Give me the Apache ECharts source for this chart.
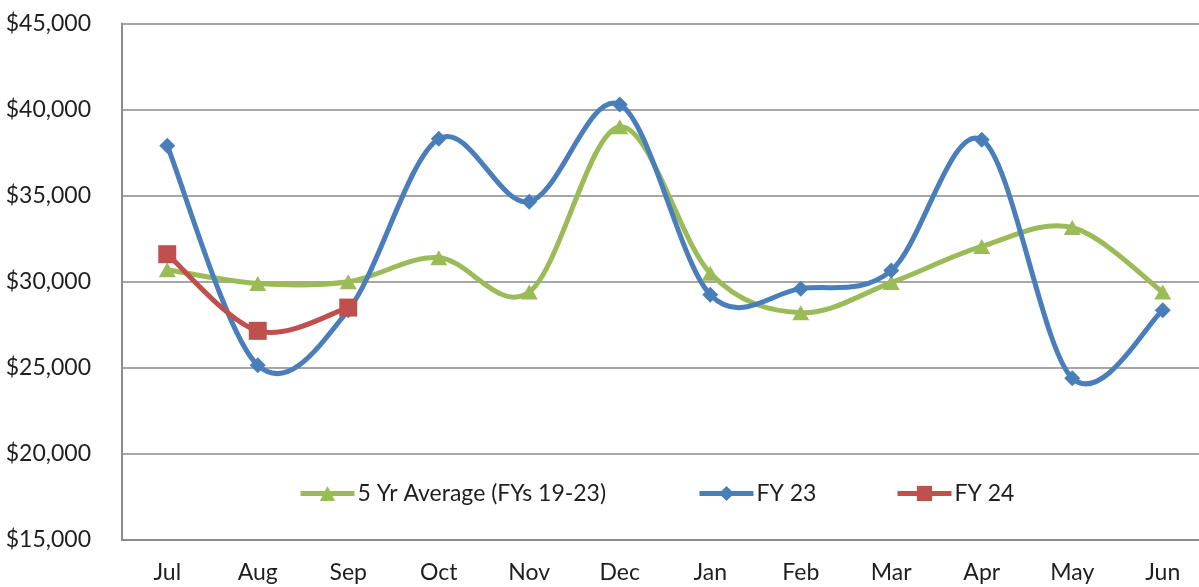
<!DOCTYPE html>
<html>
<head>
<meta charset="utf-8">
<script src="https://cdn.jsdelivr.net/npm/echarts@6/dist/echarts.min.js"></script>
<style>
  html, body { margin: 0; padding: 0; background: #fff; }
  #chart { width: 1199px; height: 587px; }
</style>
</head>
<body>
<div id="chart"></div>
<script>
// months of the fiscal year
var months = ['Jul', 'Aug', 'Sep', 'Oct', 'Nov', 'Dec', 'Jan', 'Feb', 'Mar', 'Apr', 'May', 'Jun'];
// 5 year average FYs 19-23
var avg5yr = [30700, 29900, 30000, 31400, 29400, 39000, 30500, 28200, 29950, 32050, 33150, 29400];
var fy23 = [37900, 25150, 28350, 38300, 34650, 40300, 29250, 29600, 30650, 38250, 24400, 28350];
var fy24 = [31600, 27150, 28500];

var yTicks = { min: 15000, max: 45000, step: 5000 };

var font = 'Lato, "Open Sans", sans-serif';
var textCol = '#1f1f1f';
var fs = 23;
var colors = { avg: '#9bbb59', fy23: '#4a7ebb', fy24: '#c0504d' };

var chart = echarts.init(document.getElementById('chart'));

function legendFor(name, left, color) {
    return {
        data: [name],
        left: left,
        top: 482,
        itemWidth: 54,
        itemHeight: 19,
        itemGap: 0,
        padding: 0,
        lineStyle: { color: color, width: 5, opacity: 1 },
        textStyle: { fontFamily: font, fontSize: fs, color: textCol, padding: [0, 0, 0, -2] }
    };
}

// excel style smoothed line: catmull-rom segments between the points
function curve(values, color, z) {
    return {
        type: 'custom',
        z: z,
        silent: true,
        data: values.map(function (v, i) { return [i, v]; }),
        encode: { x: 0, y: 1 },
        renderItem: function (params, api) {
            var i = params.dataIndex;
            var n = values.length;
            if (i >= n - 1) return null;
            var p = function (k) {
                k = Math.max(0, Math.min(n - 1, k));
                return api.coord([k, values[k]]);
            };
            var p0 = p(i - 1), p1 = p(i), p2 = p(i + 1), p3 = p(i + 2);
            return {
                type: 'bezierCurve',
                shape: {
                    x1: p1[0], y1: p1[1],
                    cpx1: p1[0] + (p2[0] - p0[0]) / 6, cpy1: p1[1] + (p2[1] - p0[1]) / 6,
                    cpx2: p2[0] - (p3[0] - p1[0]) / 6, cpy2: p2[1] - (p3[1] - p1[1]) / 6,
                    x2: p2[0], y2: p2[1]
                },
                style: { stroke: color, lineWidth: 5, fill: null, lineCap: 'round' }
            };
        }
    };
}

function markers(name, values, symbol, size, color, z) {
    return {
        name: name,
        type: 'line',
        z: z,
        data: values,
        symbol: symbol,
        symbolSize: size,
        lineStyle: { opacity: 0 },
        itemStyle: { color: color }
    };
}

chart.setOption({
    animation: false,
    // plot runs past the right edge of the picture, like the original crop
    grid: { left: 122, width: 1086, top: 23.5, bottom: 47, outerBoundsMode: 'none' },
    legend: [
        legendFor('5 Yr Average (FYs 19-23)', 298, colors.avg),
        legendFor('FY 23', 697, colors.fy23),
        legendFor('FY 24', 895, colors.fy24)
    ],
    xAxis: {
        type: 'category',
        data: months,
        boundaryGap: true,
        axisLine: { lineStyle: { color: '#8c8c8c', width: 2 } },
        axisTick: { alignWithLabel: true, length: 8, lineStyle: { color: '#8c8c8c', width: 2 } },
        axisLabel: { fontFamily: font, fontSize: fs, color: textCol, margin: 21 }
    },
    yAxis: {
        type: 'value',
        min: yTicks.min,
        max: yTicks.max,
        interval: yTicks.step,
        axisLine: { show: true, lineStyle: { color: '#8c8c8c', width: 2 } },
        axisTick: { show: false },
        axisLabel: {
            fontFamily: font, fontSize: fs, color: textCol, margin: 31,
            formatter: function (v) { return '$' + v.toLocaleString('en-US'); }
        },
        splitLine: { lineStyle: { color: '#a6a6a6', width: 2 } }
    },
    series: [
        curve(avg5yr, colors.avg, 2),
        markers('5 Yr Average (FYs 19-23)', avg5yr, 'triangle', [17, 15], colors.avg, 3),
        curve(fy23, colors.fy23, 4),
        markers('FY 23', fy23, 'diamond', [16, 16], colors.fy23, 5),
        curve(fy24, colors.fy24, 6),
        markers('FY 24', fy24, 'rect', 18, colors.fy24, 7)
    ]
});
</script>
</body>
</html>
